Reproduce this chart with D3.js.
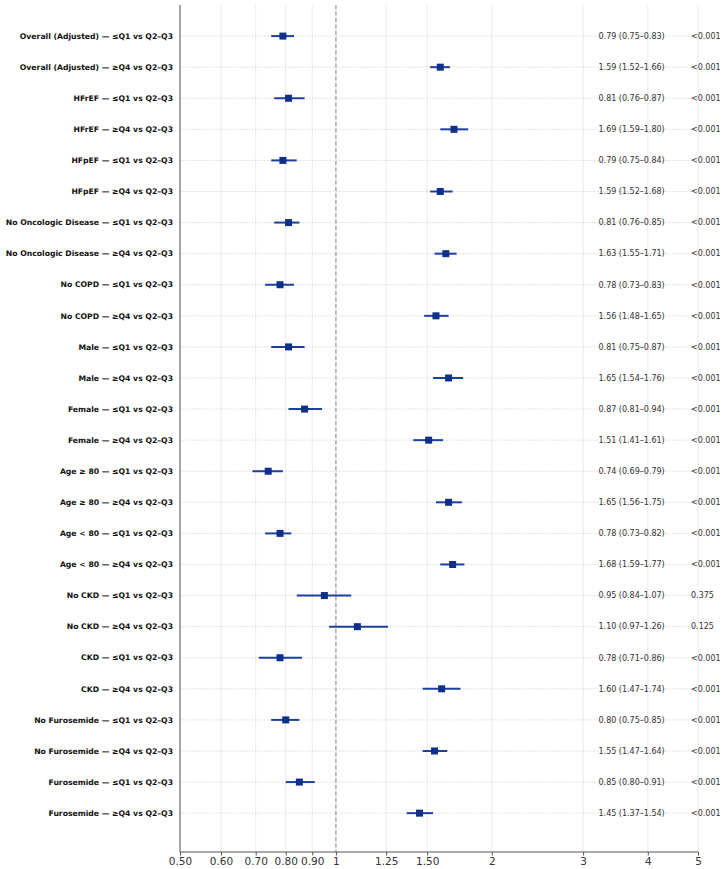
<!DOCTYPE html>
<html><head><meta charset="utf-8">
<script src="https://cdn.jsdelivr.net/npm/d3@7"></script>
<style>body{margin:0;background:#fff}svg{display:block}</style>
</head><body>
<script>
const labels = [
 "Overall (Adjusted) — ≤Q1 vs Q2–Q3","Overall (Adjusted) — ≥Q4 vs Q2–Q3",
 "HFrEF — ≤Q1 vs Q2–Q3","HFrEF — ≥Q4 vs Q2–Q3",
 "HFpEF — ≤Q1 vs Q2–Q3","HFpEF — ≥Q4 vs Q2–Q3",
 "No Oncologic Disease — ≤Q1 vs Q2–Q3","No Oncologic Disease — ≥Q4 vs Q2–Q3",
 "No COPD — ≤Q1 vs Q2–Q3","No COPD — ≥Q4 vs Q2–Q3",
 "Male — ≤Q1 vs Q2–Q3","Male — ≥Q4 vs Q2–Q3",
 "Female — ≤Q1 vs Q2–Q3","Female — ≥Q4 vs Q2–Q3",
 "Age ≥ 80 — ≤Q1 vs Q2–Q3","Age ≥ 80 — ≥Q4 vs Q2–Q3",
 "Age < 80 — ≤Q1 vs Q2–Q3","Age < 80 — ≥Q4 vs Q2–Q3",
 "No CKD — ≤Q1 vs Q2–Q3","No CKD — ≥Q4 vs Q2–Q3",
 "CKD — ≤Q1 vs Q2–Q3","CKD — ≥Q4 vs Q2–Q3",
 "No Furosemide — ≤Q1 vs Q2–Q3","No Furosemide — ≥Q4 vs Q2–Q3",
 "Furosemide — ≤Q1 vs Q2–Q3","Furosemide — ≥Q4 vs Q2–Q3"
];
const hr    = [0.79,1.59,0.81,1.69,0.79,1.59,0.81,1.63,0.78,1.56,0.81,1.65,0.87,1.51,0.74,1.65,0.78,1.68,0.95,1.10,0.78,1.60,0.80,1.55,0.85,1.45];
const lower = [0.75,1.52,0.76,1.59,0.75,1.52,0.76,1.55,0.73,1.48,0.75,1.54,0.81,1.41,0.69,1.56,0.73,1.59,0.84,0.97,0.71,1.47,0.75,1.47,0.80,1.37];
const upper = [0.83,1.66,0.87,1.80,0.84,1.68,0.85,1.71,0.83,1.65,0.87,1.76,0.94,1.61,0.79,1.75,0.82,1.77,1.07,1.26,0.86,1.74,0.85,1.64,0.91,1.54];
const pvals = ["<0.001","<0.001","<0.001","<0.001","<0.001","<0.001","<0.001","<0.001","<0.001","<0.001","<0.001","<0.001","<0.001","<0.001","<0.001","<0.001","<0.001","<0.001","0.375","0.125","<0.001","<0.001","<0.001","<0.001","<0.001","<0.001"];
const tickVals = [0.5,0.6,0.7,0.8,0.9,1,1.25,1.5,2,3,4,5];
const tickLabels = ["0.50","0.60","0.70","0.80","0.90","1","1.25","1.50","2","3","4","5"];

const W=726,H=869;
const svg=d3.select("body").append("svg").attr("width",W).attr("height",H);
const x=d3.scaleLog().domain([0.5,5]).range([180,698]);
const y=d3.scaleLinear().domain([-1,26.25]).range([5,852]);
const font="DejaVu Sans";

// vertical grid
svg.append("g").selectAll("line").data(tickVals).join("line")
 .attr("x1",d=>x(d)).attr("x2",d=>x(d)).attr("y1",5).attr("y2",852)
 .attr("stroke","#e6e6e6").attr("stroke-width",0.8);
// horizontal dotted grid
svg.append("g").selectAll("line").data(labels).join("line")
 .attr("x1",180).attr("x2",698).attr("y1",(d,i)=>y(i)).attr("y2",(d,i)=>y(i))
 .attr("stroke","#cfcfcf").attr("stroke-width",0.8).attr("stroke-dasharray","1.5,1.5");
// reference line at 1
svg.append("line").attr("x1",x(1)).attr("x2",x(1)).attr("y1",5).attr("y2",852)
 .attr("stroke","#888").attr("stroke-width",1).attr("stroke-dasharray","4,2.5");

// CI lines
svg.append("g").selectAll("line").data(hr).join("line")
 .attr("x1",(d,i)=>x(lower[i])).attr("x2",(d,i)=>x(upper[i]))
 .attr("y1",(d,i)=>y(i)).attr("y2",(d,i)=>y(i))
 .attr("stroke","#1d3f9e").attr("stroke-width",2);
// markers
const ms=7;
svg.append("g").selectAll("rect").data(hr).join("rect")
 .attr("x",d=>x(d)-ms/2).attr("y",(d,i)=>y(i)-ms/2).attr("width",ms).attr("height",ms)
 .attr("fill","#0e2f8a");

// axes spines
svg.append("line").attr("x1",180).attr("x2",180).attr("y1",5).attr("y2",852).attr("stroke","#555").attr("stroke-width",1);
const xa=svg.append("g").attr("transform","translate(0,852)")
 .call(d3.axisBottom(x).tickValues(tickVals).tickFormat((d,i)=>tickLabels[i]).tickSize(3.5).tickPadding(2));
xa.select(".domain").attr("stroke","#555").attr("d","M180,0H698");
xa.selectAll(".tick line").attr("stroke","#555");
xa.selectAll("text").attr("font-family",font).attr("font-size",10.5).attr("fill","#333");

// row labels
svg.append("g").selectAll("text").data(labels).join("text")
 .attr("x",173).attr("y",(d,i)=>y(i)).attr("dy","0.35em").attr("text-anchor","end")
 .attr("font-family",font).attr("font-weight","bold").attr("font-size",7.7).attr("fill","#111")
 .text(d=>d);
// HR text
svg.append("g").selectAll("text").data(hr).join("text")
 .attr("x",598.5).attr("y",(d,i)=>y(i)).attr("dy","0.35em")
 .attr("font-family",font).attr("font-size",8).attr("fill","#333")
 .text((d,i)=>`${d.toFixed(2)} (${lower[i].toFixed(2)}–${upper[i].toFixed(2)})`);
// p text
svg.append("g").selectAll("text").data(pvals).join("text")
 .attr("x",691).attr("y",(d,i)=>y(i)).attr("dy","0.35em")
 .attr("font-family",font).attr("font-size",8).attr("fill","#333")
 .text(d=>d);
</script>
</body></html>
